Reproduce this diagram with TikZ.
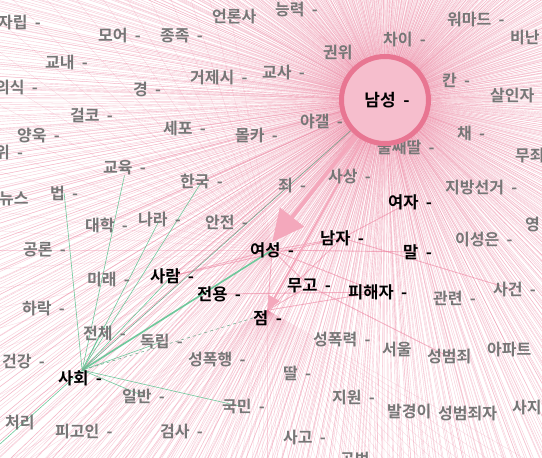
\documentclass[tikz,border=0pt]{standalone}
\usepackage{fontspec}
\newfontfamily\kr{Noto Sans CJK KR Bold}
\usetikzlibrary{arrows.meta,backgrounds,calc}
\definecolor{lbl}{RGB}{118,118,118}
\definecolor{pk}{RGB}{236,125,155}
\definecolor{pkfill}{RGB}{246,190,205}
\definecolor{pkring}{RGB}{232,118,146}
\definecolor{pkarrow}{RGB}{244,168,188}
\definecolor{gr}{RGB}{110,200,155}
\newcommand\dsh{\hspace{0.45em}-}
\tikzset{
 gl/.style={font=\kr\fontsize{16}{18}\selectfont, text=lbl, inner sep=0pt, anchor=west},
 bl/.style={font=\kr\fontsize{16.5}{18}\selectfont, text=black, inner sep=0pt, anchor=west},
 fan/.style={draw=pk, line width=0.4pt, opacity=0.4},
 subfan/.style={draw=pk, line width=0.3pt, opacity=0.3},
 pedge/.style={draw=pk, line width=0.9pt, opacity=0.55},
 gedge/.style={draw=gr, line width=0.6pt},
}
\begin{document}
\begin{tikzpicture}[x=1pt,y=-1pt]
\useasboundingbox (0,0) rectangle (542,458);
\pgfmathsetseed{7}
% gray labels
\node[gl] (jarip) at (-2,23) {자립\dsh};
\node[gl] (moeo) at (98,36) {모어\dsh};
\node[gl] (jongjok) at (160,36) {종족\dsh};
\node[gl] (eonron) at (212,17) {언론사};
\node[gl] (neung) at (275,10) {능력\dsh};
\node[gl] (gwonwi) at (323,52) {권위};
\node[gl] (chai) at (383,40) {차이\dsh};
\node[gl] (womad) at (447,20) {워마드\dsh};
\node[gl] (binan) at (510,38) {비난\dsh};
\node[gl] (gyonae) at (45,62) {교내\dsh};
\node[gl] (uisik) at (-5,88) {의식\dsh};
\node[gl] (gyeong) at (133,89) {경\dsh};
\node[gl] (geoje) at (190,78) {거제시\dsh};
\node[gl] (gyosa) at (262,73) {교사\dsh};
\node[gl] (kan) at (442,80) {칸\dsh};
\node[gl] (salin) at (490,96) {살인자\dsh};
\node[gl] (geolko) at (70,115) {걸코\dsh};
\node[gl] (yangyuk) at (17,136) {양욱\dsh};
\node[gl] (sepo) at (163,128) {세포\dsh};
\node[gl] (molka) at (235,135) {몰카\dsh};
\node[gl] (yagal) at (300,122) {야갤\dsh};
\node[gl] (chae) at (457,133) {채\dsh};
\node[gl] (dulddal) at (377,148) {둘째딸\dsh};
\node[gl] (wi) at (-5,152) {위\dsh};
\node[gl] (mujoe) at (515,156) {무죄\dsh};
\node[gl] (gyoyuk) at (103,168) {교육\dsh};
\node[gl] (hanguk) at (180,182) {한국\dsh};
\node[gl] (joe) at (278,186) {죄\dsh};
\node[gl] (sasang) at (328,177) {사상\dsh};
\node[gl] (jibang) at (445,188) {지방선거\dsh};
\node[gl] (news) at (-1,199) {뉴스};
\node[gl] (beop) at (50,193) {법\dsh};
\node[gl] (daehak) at (85,225) {대학\dsh};
\node[gl] (nara) at (138,220) {나라\dsh};
\node[gl] (anjeon) at (205,222) {안전\dsh};
\node[gl] (yeong) at (525,225) {영\dsh};
\node[gl] (iseong) at (455,240) {이성은\dsh};
\node[gl] (gongron) at (23,250) {공론\dsh};
\node[gl] (mirae) at (87,280) {미래\dsh};
\node[gl] (gwanryeon) at (433,298) {관련\dsh};
\node[gl] (sageon) at (493,290) {사건\dsh};
\node[gl] (harak) at (22,309) {하락\dsh};
\node[gl] (jeonche) at (83,333) {전체\dsh};
\node[gl] (dongnip) at (140,342) {독립\dsh};
\node[gl] (spr) at (313,340) {성폭력\dsh};
\node[gl] (seoul) at (382,350) {서울};
\node[gl] (sbj) at (427,357) {성범죄};
\node[gl] (apart) at (487,350) {아파트};
\node[gl] (geongang) at (2,362) {건강\dsh};
\node[gl] (sph) at (188,360) {성폭행\dsh};
\node[gl] (ddal) at (283,373) {딸\dsh};
\node[gl] (ilban) at (122,396) {일반\dsh};
\node[gl] (jiwon) at (332,398) {지원\dsh};
\node[gl] (gukmin) at (222,407) {국민\dsh};
\node[gl] (balgyeong) at (387,412) {발경이};
\node[gl] (sbjj) at (438,414) {성범죄자};
\node[gl] (saji) at (512,408) {사지};
\node[gl] (cheori) at (5,423) {처리};
\node[gl] (pigoin) at (55,432) {피고인\dsh};
\node[gl] (geomsa) at (160,432) {검사\dsh};
\node[gl] (sago) at (283,438) {사고\dsh};
\node[gl] (gongbeom) at (340,460) {공범\dsh};
% black labels
\node[bl] (yeoja) at (388,202) {여자\dsh};
\node[bl] (namja) at (320,238) {남자\dsh};
\node[bl] (mal) at (403,252) {말\dsh};
\node[bl] (yeoseong) at (250,250) {여성\dsh};
\node[bl] (saram) at (150,276) {사람\dsh};
\node[bl] (jeonyong) at (197,294) {전용\dsh};
\node[bl] (mugo) at (287,286) {무고\dsh};
\node[bl] (pihaeja) at (348,292) {피해자\dsh};
\node[bl] (jeom) at (253,318) {점\dsh};
\node[bl] (sahoe) at (58,378) {사회\dsh};
% hub
\node[circle, draw=pkring, line width=5pt, fill=pkfill, minimum size=87pt, inner sep=0pt,
      font=\kr\fontsize{17}{18}\selectfont] (ns) at (385,100) {\hspace{4pt}남성\dsh};
\coordinate (sh) at ($(sahoe.north)+(2,0)$);
\begin{scope}[on background layer]
\fill[white] (0,0) rectangle (542,458);
\clip (0,0) rectangle (542,458);
% main fan from the hub
\foreach \a in {0,0.35,...,359.8} {
  \pgfmathsetmacro\aa{\a+0.3*rand}
  \coordinate (f) at ($(ns.center)+(\aa:900)$);
  \draw[fan] (ns.center) -- (f);
}
% sub fans
\foreach \a in {30,32,...,150} {
  \coordinate (g) at ($(jeom.north)+(\a:500)$);
  \draw[subfan] (jeom.north) -- (g);
}
\foreach \a in {100,104,...,260} {
  \coordinate (h) at ($(yeoseong.center)+(\a:500)$);
  \draw[subfan] (yeoseong.center) -- (h);
}
\foreach \n in {jarip,moeo,jongjok,eonron,neung,gwonwi,chai,womad,binan,gyonae,uisik,gyeong,geoje,gyosa,kan,salin,geolko,yangyuk,sepo,molka,yagal,chae,dulddal,wi,mujoe,gyoyuk,hanguk,joe,sasang,jibang,news,beop,daehak,nara,anjeon,yeong,iseong,gongron,mirae,gwanryeon,sageon,harak,jeonche,dongnip,spr,seoul,sbj,apart,geongang,sph,ddal,ilban,jiwon,gukmin,balgyeong,sbjj,saji,cheori,pigoin,geomsa,sago,gongbeom,yeoja,namja,mal,saram,jeonyong,mugo,pihaeja,sahoe}
  \draw[fan] (ns.center) -- (\n.center);
% edges among main words
\draw[pedge] (yeoseong.center) -- (mal.center);
\draw[pedge] (yeoseong.center) -- (namja.center);
\draw[pedge] (yeoseong.center) -- (pihaeja.center);
\draw[pedge] (yeoseong.center) -- (mugo.center);
\draw[pedge] (yeoseong.center) -- (jeom.north);
\draw[pedge] (yeoseong.center) -- (saram.center);
\draw[pedge] (jeom.north) -- (namja.center);
\draw[pedge] (jeom.north) -- (mugo.center);
\draw[pedge] (jeom.north) -- (pihaeja.center);
\draw[pedge] (saram.center) -- (namja.center);
\draw[pedge] (mugo.center) -- (sbj.center);
\draw[pedge] (namja.center) -- (sageon.center);
\draw[pedge] (jeonyong.center) -- (pihaeja.center);
\draw[pedge] (yeoja.center) -- (namja.center);
% arrows from the hub
\draw[draw=pkarrow, line width=4pt, -{Triangle[length=32pt,width=30pt]}] (ns) -- (yeoseong.north);
\draw[draw=pkarrow, line width=2pt, -{Triangle[length=14pt,width=12pt]}] (ns) -- (jeom.north);
% green edges into the society node
\draw[gedge] (beop.center) -- (sh);
\draw[gedge] (gyoyuk.south) -- (sh);
\draw[gedge] (nara.center) -- (sh);
\draw[gedge] (hanguk.center) -- (sh);
\draw[gedge] (jeonche.north) -- (sh);
\draw[gedge] (dongnip.center) -- (sh);
\draw[gedge] (saram.center) -- (sh);
\draw[gedge, line width=1.6pt] (yeoseong.center) -- (sh);
\draw[gedge, draw=gr!60!gray, dashed] (jeom.west) -- (sh);
\draw[gedge] (gukmin.center) -- (sh);
\draw[gedge] (ilban.center) -- (sh);
\coordinate (sw) at (-20,462);
\draw[gedge] (sh) -- (sw);
\draw[gedge, draw=gr!50!gray] (sh) -- (ns);
\end{scope}
\end{tikzpicture}
\end{document}
